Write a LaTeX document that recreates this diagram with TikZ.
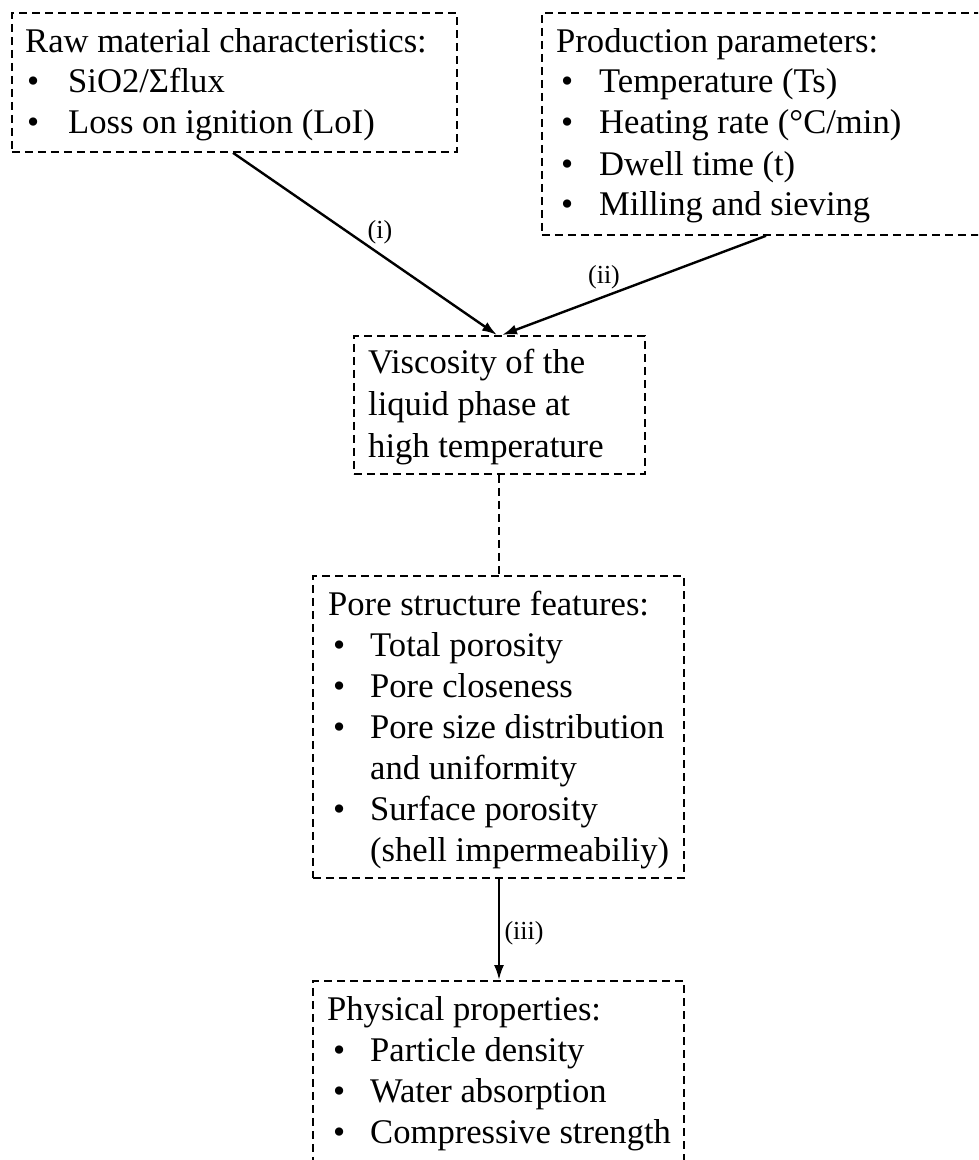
\documentclass[tikz,border=0pt]{standalone}
\usepackage{fontspec}
\setmainfont{Liberation Serif}
\usetikzlibrary{arrows.meta,calc}
\begin{document}
\begin{tikzpicture}[x=1pt,y=-1pt,
  box/.style={draw, dash pattern=on 8pt off 5pt, line width=1.8pt, inner sep=0pt, anchor=north west},
  txt/.style={anchor=base west, inner sep=0pt, font=\fontsize{34.6}{41}\selectfont},
  lab/.style={inner sep=0pt, font=\fontsize{26}{30}\selectfont},
  arr/.style={line width=2.4pt, -{Latex[length=15pt,width=10pt]}},
  link/.style={line width=1.8pt, dash pattern=on 8pt off 5pt}]
\useasboundingbox (0,0) rectangle (978,1160);
\clip (0,0) rectangle (978,1160);
% boxes
\node[box, minimum width=445pt, minimum height=139pt] (b1) at (11,12) {};
\node[box, minimum width=460pt, minimum height=222pt] (b2) at (541,12) {};
\node[box, minimum width=291pt, minimum height=138pt] (b3) at (353,335) {};
\node[box, minimum width=371pt, minimum height=302pt] (b4) at (312,575) {};
\node[box, minimum width=371pt, minimum height=200pt] (b5) at (312,980) {};
% box 1 text
\node[txt] (t11) at (25,52) {Raw material characteristics:};
\node[txt] (d12) at (27,92) {•};
\node[txt] (t12) at (68,92) {SiO2/Σflux};
\node[txt] (d13) at (27,133) {•};
\node[txt] (t13) at (68,133) {Loss on ignition (LoI)};
% box 2 text
\node[txt] (t21) at (556,52) {Production parameters:};
\node[txt] (d22) at (561,92) {•};
\node[txt] (t22) at (599,92) {Temperature (Ts)};
\node[txt] (d23) at (561,133) {•};
\node[txt] (t23) at (599,133) {Heating rate (°C/min)};
\node[txt] (d24) at (561,175) {•};
\node[txt] (t24) at (599,175) {Dwell time (t)};
\node[txt] (d25) at (561,215) {•};
\node[txt] (t25) at (599,215) {Milling and sieving};
% box 3 text
\node[txt] (t31) at (368,373) {Viscosity of the};
\node[txt] (t32) at (368,415) {liquid phase at};
\node[txt] (t33) at (368,457) {high temperature};
% box 4 text
\node[txt] (t41) at (328,615) {Pore structure features:};
\node[txt] (d42) at (333,656) {•};
\node[txt] (t42) at (370,656) {Total porosity};
\node[txt] (d43) at (333,697) {•};
\node[txt] (t43) at (370,697) {Pore closeness};
\node[txt] (d44) at (333,738) {•};
\node[txt] (t44) at (370,738) {Pore size distribution};
\node[txt] (t45) at (370,779) {and uniformity};
\node[txt] (d46) at (333,820) {•};
\node[txt] (t46) at (370,820) {Surface porosity};
\node[txt] (t47) at (370,861) {(shell impermeabiliy)};
% box 5 text
\node[txt] (t51) at (327,1020) {Physical properties:};
\node[txt] (d52) at (333,1061) {•};
\node[txt] (t52) at (370,1061) {Particle density};
\node[txt] (d53) at (333,1102) {•};
\node[txt] (t53) at (370,1102) {Water absorption};
\node[txt] (d54) at (333,1143) {•};
\node[txt] (t54) at (370,1143) {Compressive strength};
% connectors
\draw[arr] ($(b1.south west)+(222,0)$) -- ($(b3.north west)+(144,0)$);
\draw[arr] ($(b2.south west)+(225,0)$) -- ($(b3.north west)+(149,0)$);
\draw[link] ($(b3.south west)+(146,0)$) -- ($(b4.north west)+(187,0)$);
\draw[arr] ($(b4.south west)+(187,0)$) -- ($(b5.north west)+(187,0)$);
% labels
\node[lab] (li) at (380,232) {(i)};
\node[lab] (lii) at (604,277) {(ii)};
\node[lab] (liii) at (524,933) {(iii)};
\end{tikzpicture}
\end{document}
